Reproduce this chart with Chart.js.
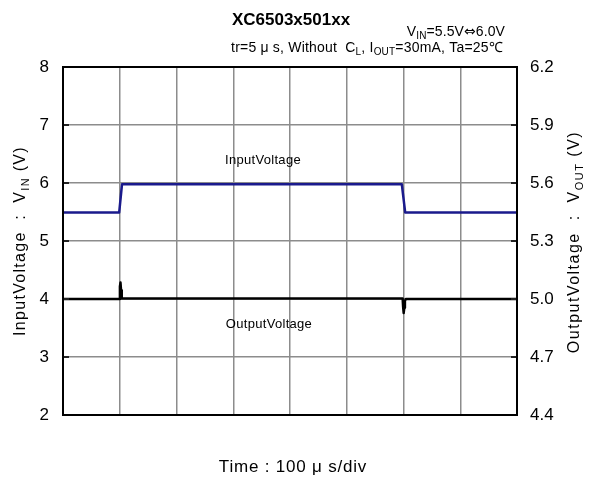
<!DOCTYPE html>
<html>
<head>
<meta charset="utf-8">
<script src="https://cdn.jsdelivr.net/npm/chart.js@4/dist/chart.umd.min.js"></script>
<style>
  body { margin: 0; background: #fff; }
  #wrap { width: 590px; height: 480px; }
</style>
</head>
<body>
<div id="wrap"><canvas id="myChart" width="590" height="480"></canvas></div>
<script>
// time in microseconds, 100 us per division
const timeTicks = [0, 100, 200, 300, 400, 500, 600, 700, 800];
const leftTicks = [2, 3, 4, 5, 6, 7, 8];
const rightTicks = [4.4, 4.7, 5.0, 5.3, 5.6, 5.9, 6.2];

const inputTime = [0, 99, 104, 597, 603, 800];
const inputVolt = [5.49, 5.49, 5.98, 5.98, 5.49, 5.49];

const outputTime = [0, 99, 100.3, 101.3, 102.3, 103.5, 598.5, 599.3, 600.3, 601.5, 602.5, 604, 800];
const outputVolt = [5.0, 5.0, 5.065, 5.085, 5.045, 5.003, 5.003, 4.96, 4.928, 4.955, 4.99, 5.0, 5.0];

const FONT = '"Liberation Sans", Arial, sans-serif';

// draw text made of parts, some of them subscript
function richText(ctx, parts, x, y, size, align, spacing) {
  let subSize = Math.round(size * 0.7);
  const fontOf = p => (p.sub ? subSize : size) + 'px ' + (p.font || FONT);
  ctx.letterSpacing = (spacing || 0) + 'px';
  let total = 0;
  parts.forEach(p => {
    ctx.font = fontOf(p);
    total += ctx.measureText(p.t).width;
  });
  let cx = align === 'right' ? x - total : align === 'center' ? x - total / 2 : x;
  ctx.textAlign = 'left';
  ctx.textBaseline = 'middle';
  parts.forEach(p => {
    ctx.font = fontOf(p);
    ctx.fillText(p.t, cx, p.sub ? y + size * 0.3 : y);
    cx += ctx.measureText(p.t).width;
  });
  ctx.letterSpacing = '0px';
}

const decorations = {
  id: 'decorations',
  afterDraw(chart) {
    const ctx = chart.ctx;
    const a = chart.chartArea;
    const yS = chart.scales.y;
    ctx.save();

    // small inner ticks
    ctx.strokeStyle = '#222';
    ctx.lineWidth = 2;
    leftTicks.forEach(v => {
      const py = yS.getPixelForValue(v);
      ctx.beginPath(); ctx.moveTo(a.left, py); ctx.lineTo(a.left + 6, py); ctx.stroke();
      ctx.beginPath(); ctx.moveTo(a.right, py); ctx.lineTo(a.right - 6, py); ctx.stroke();
    });

    // frame
    ctx.strokeStyle = '#000';
    ctx.lineWidth = 2;
    ctx.strokeRect(a.left, a.top, a.right - a.left, a.bottom - a.top);

    ctx.fillStyle = '#000';
    // title
    ctx.font = 'bold 17px ' + FONT;
    ctx.textAlign = 'center';
    ctx.textBaseline = 'middle';
    ctx.fillText('XC6503x501xx', 291, 20);

    richText(ctx, [{t: 'V'}, {t: 'IN', sub: true}, {t: '=5.5V'}, {t: '⇔', font: '"DejaVu Sans", sans-serif'}, {t: '6.0V'}],
      505, 32, 14, 'right', 0.1);
    richText(ctx, [{t: 'tr=5 μ s, Without  C'}, {t: 'L', sub: true}, {t: ', I'}, {t: 'OUT', sub: true},
      {t: '=30mA, Ta=25℃'}], 503, 48, 14, 'right', 0.2);

    // series labels
    richText(ctx, [{t: 'InputVoltage'}], 263, 160, 13, 'center', 0.3);
    richText(ctx, [{t: 'OutputVoltage'}], 269, 324, 13, 'center', 0.3);

    // x title
    richText(ctx, [{t: 'Time : 100 μ s/div'}], 293, 467, 17, 'center', 0.8);

    // y titles
    ctx.save();
    ctx.translate(21, 241);
    ctx.rotate(-Math.PI / 2);
    richText(ctx, [{t: 'InputVoltage  :  V'}, {t: 'IN', sub: true}, {t: ' (V)'}], 0, 0, 16, 'center', 1.3);
    ctx.restore();

    ctx.save();
    ctx.translate(575, 242);
    ctx.rotate(-Math.PI / 2);
    richText(ctx, [{t: 'OutputVoltage  :  V'}, {t: 'OUT', sub: true}, {t: ' (V)'}], 0, 0, 16, 'center', 1.5);
    ctx.restore();

    ctx.restore();
  }
};

const ctx = document.getElementById('myChart').getContext('2d');

new Chart(ctx, {
  type: 'line',
  data: {
    datasets: [{
      label: 'InputVoltage',
      data: inputTime.map((t, i) => ({x: t, y: inputVolt[i]})),
      yAxisID: 'y',
      borderColor: '#1a1a8c',
      borderWidth: 2.5,
      borderJoinStyle: 'round',
      pointRadius: 0,
      tension: 0
    },
    {
      label: 'OutputVoltage',
      data: outputTime.map((t, i) => ({x: t, y: outputVolt[i]})),
      yAxisID: 'y1',
      borderColor: '#000000',
      borderWidth: 2.5,
      borderJoinStyle: 'round',
      pointRadius: 0,
      tension: 0
    }]
  },
  options: {
    responsive: false,
    animation: false,
    devicePixelRatio: 1,
    layout: { padding: { top: 67, left: 0, right: 0, bottom: 0 } },
    plugins: {
      legend: { display: false },
      title: { display: false },
      tooltip: { enabled: false }
    },
    scales: {
      x: {
        type: 'linear',
        min: 0,
        max: 800,
        afterBuildTicks: s => { s.ticks = timeTicks.map(v => ({value: v})); },
        afterFit: s => { s.height = 65; },
        ticks: { display: false },
        grid: { color: '#8c8c8c', lineWidth: 1.5, drawTicks: false },
        border: { display: false }
      },
      y: {
        position: 'left',
        min: 2,
        max: 8,
        afterBuildTicks: s => { s.ticks = leftTicks.map(v => ({value: v})); },
        afterFit: s => { s.width = 63; },
        ticks: {
          color: '#000',
          padding: 14,
          font: { family: FONT, size: 17 },
          callback: v => String(v)
        },
        grid: { color: '#8c8c8c', lineWidth: 1.5, drawTicks: false },
        border: { display: false }
      },
      y1: {
        position: 'right',
        min: 4.4,
        max: 6.2,
        afterBuildTicks: s => { s.ticks = rightTicks.map(v => ({value: v})); },
        afterFit: s => { s.width = 73; },
        ticks: {
          color: '#000',
          padding: 13,
          font: { family: FONT, size: 17 },
          callback: v => Number(v).toFixed(1)
        },
        grid: { display: false, drawTicks: false },
        border: { display: false }
      }
    }
  },
  plugins: [decorations]
});
</script>
</body>
</html>
